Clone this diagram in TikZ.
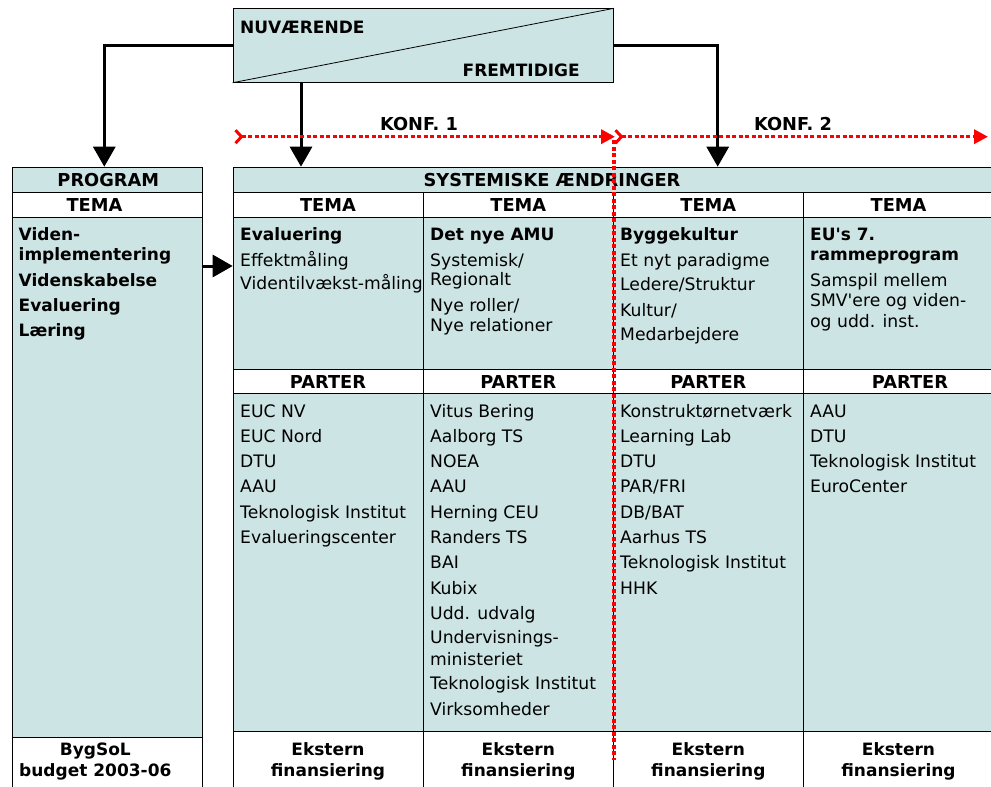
\documentclass[tikz,border=0pt]{standalone}
\usepackage{fontspec}
\setmainfont{DejaVu Sans}
\usetikzlibrary{arrows.meta}
\definecolor{cellfill}{RGB}{204,228,227}
\definecolor{konfred}{RGB}{255,0,0}
\newcommand\fsz{\fontsize{17.2}{20}\selectfont}
\newcommand\fszb{\fontsize{17}{20}\selectfont}
\newcommand\fszh{\fontsize{17.8}{20}\selectfont}
\begin{document}
\begin{tikzpicture}[x=1pt,y=-1pt,
 cell/.style={draw=black, line width=1pt, fill=cellfill, inner sep=0pt, anchor=north west},
 wcell/.style={cell, fill=white},
 hd/.style={font=\fszh\bfseries, inner sep=0pt, anchor=base},
 hb/.style={font=\fszb\bfseries, inner sep=0pt, anchor=base},
 tx/.style={font=\fsz, inner sep=0pt, anchor=base west},
 bt/.style={font=\fszb\bfseries, inner sep=0pt, anchor=base west},
 conn/.style={line width=3pt, -{Triangle[length=20pt,width=22pt]}},
 konf/.style={draw=konfred, line width=3.5pt, dash pattern=on 4pt off 2.5pt},
 konfarrow/.style={konf, {Straight Barb[reversed,length=6pt,width=13pt,line width=3pt,color=konfred]}-{Triangle[length=14pt,width=14pt,color=konfred]}},
]
\useasboundingbox (0,0) rectangle (991,787);

% top box
\node[cell, minimum width=380.3, minimum height=73.4] (top) at (232.7,8.3) {};
\draw[line width=0.8pt] (top.south west) -- (top.north east);
\node[bt] (nuv) at (240,33.3) {NUVÆRENDE};
\node[bt, anchor=base east] (frem) at (580,76) {FREMTIDIGE};

% program column
\node[cell, minimum width=190, minimum height=25.3] (proghd) at (12.3,166.7) {};
\node[wcell, minimum width=190, minimum height=24.7] (progtema) at (12.3,192) {};
\node[cell, minimum width=190, minimum height=520] (progbody) at (12.3,216.7) {};
\node[wcell, minimum width=190, minimum height=60] (progfoot) at (12.3,736.7) {};
\node[hd] (proghdt) at (108.3,186.7) {PROGRAM};
\node[hd] (progtemat) at (94.5,211) {TEMA};
\foreach \t/\y [count=\i] in {Viden-/240.7, implementering/260, Videnskabelse/286, Evaluering/311.7, Læring/336.7}
  \node[bt] (pr\i) at (18.5,\y) {\t};
\node[hb] (progf1) at (95.3,755) {BygSoL};
\node[hb] (progf2) at (95.3,776.3) {budget 2003-06};

% system header
\node[cell, minimum width=762, minimum height=25.3] (syshd) at (232.7,166.7) {};
\node[hd] (syshdt) at (552,186.7) {SYSTEMISKE ÆNDRINGER};

% columns
\foreach \x/\w [count=\c] in {232.7/190.6, 423.3/190, 613.3/190, 803.3/192} {
  \node[wcell, minimum width=\w, minimum height=24.7] (tema\c) at (\x,192) {};
  \node[cell, minimum width=\w, minimum height=152.6] (body\c) at (\x,216.7) {};
  \node[wcell, minimum width=\w, minimum height=24] (parter\c) at (\x,369.3) {};
  \node[cell, minimum width=\w, minimum height=337.7] (pbody\c) at (\x,393.3) {};
  \node[wcell, minimum width=\w, minimum height=66] (foot\c) at (\x,731) {};
}
\foreach \cx [count=\c] in {328,518.3,708.3,898.5} {
  \node[hd] (temat\c) at (\cx,211) {TEMA};
  \node[hb] (ekst\c) at (\cx,755) {Ekstern};
  \node[hb] (fin\c) at (\cx,776.3) {finansiering};
}
\foreach \cx [count=\c] in {328,518.3,708.3,910} {
  \node[hd] (partert\c) at (\cx,388.3) {PARTER};
}

% tema bodies
\node[bt] (a1) at (240,240.7) {Evaluering};
\node[tx] (a2) at (240,266) {Effektmåling};
\node[tx] (a3) at (240,289.3) {Videntilvækst-måling};

\node[bt] (b1) at (430,240.7) {Det nye AMU};
\node[tx] (b2) at (430,266) {Systemisk/};
\node[tx] (b3) at (430,285) {Regionalt};
\node[tx] (b4) at (430,311.7) {Nye roller/};
\node[tx] (b5) at (430,331.7) {Nye relationer};

\node[bt] (c1) at (620,240.4) {Byggekultur};
\node[tx] (c2) at (620,266) {Et nyt paradigme};
\node[tx] (c3) at (620,290) {Ledere/Struktur};
\node[tx] (c4) at (620,316) {Kultur/};
\node[tx] (c5) at (620,340.7) {Medarbejdere};

\node[bt] (d1) at (810,240.4) {EU\textquotesingle s 7.};
\node[bt] (d2) at (810,260.7) {rammeprogram};
\node[tx] (d3) at (810,286) {Samspil mellem};
\node[tx] (d4) at (810,306.7) {SMV\textquotesingle ere og viden-};
\node[tx] (d5) at (810,327.3) {og udd. inst.};

% partner lists
\foreach \t/\y [count=\i] in {EUC NV/417.3, EUC Nord/442.5, DTU/467.7, AAU/492.9, Teknologisk Institut/518.1, Evalueringscenter/543.3}
  \node[tx] (pa\i) at (240,\y) {\t};
\foreach \t/\y [count=\i] in {Vitus Bering/417.3, Aalborg TS/442.5, NOEA/467.7, AAU/492.9, Herning CEU/518.1, Randers TS/543.3, BAI/568.5, Kubix/594.1, Udd. udvalg/619.3, Undervisnings-/643.3, ministeriet/665, Teknologisk Institut/689.3, Virksomheder/715.3}
  \node[tx] (pb\i) at (430,\y) {\t};
\foreach \t/\y [count=\i] in {Konstruktørnetværk/417.3, Learning Lab/442.5, DTU/467.7, {PAR/FRI}/492.9, {DB/BAT}/518.1, Aarhus TS/543.3, Teknologisk Institut/568.5, HHK/594.1}
  \node[tx] (pc\i) at (620,\y) {\t};
\foreach \t/\y [count=\i] in {AAU/417.3, DTU/442.5, Teknologisk Institut/467.7, EuroCenter/492.9}
  \node[tx] (pd\i) at (810,\y) {\t};

% black connectors
\coordinate (cprog) at (104.3,166.7);
\coordinate (cmid) at (301,166.7);
\coordinate (csys) at (717.7,166.7);
\draw[conn] (top.west) -| (cprog);
\draw[conn] (cmid |- top.south) -- (cmid);
\draw[conn] (top.east) -| (csys);
\draw[conn] (progbody.east |- 0,266) -- (body1.west |- 0,266);

% red KONF lines
\coordinate (k1a) at (234,136.7);
\coordinate (k1b) at (615,136.7);
\coordinate (k2a) at (614,136.7);
\coordinate (k2b) at (988,136.7);
\coordinate (kvt) at (614,140);
\coordinate (kvb) at (614,760);
\draw[konf] (kvt) -- (kvb);
\draw[konfarrow] (k1a) -- (k1b);
\draw[konfarrow] (k2a) -- (k2b);
\node[hd] (konf1) at (419,130.7) {KONF. 1};
\node[hd] (konf2) at (793,130.7) {KONF. 2};
\end{tikzpicture}
\end{document}
